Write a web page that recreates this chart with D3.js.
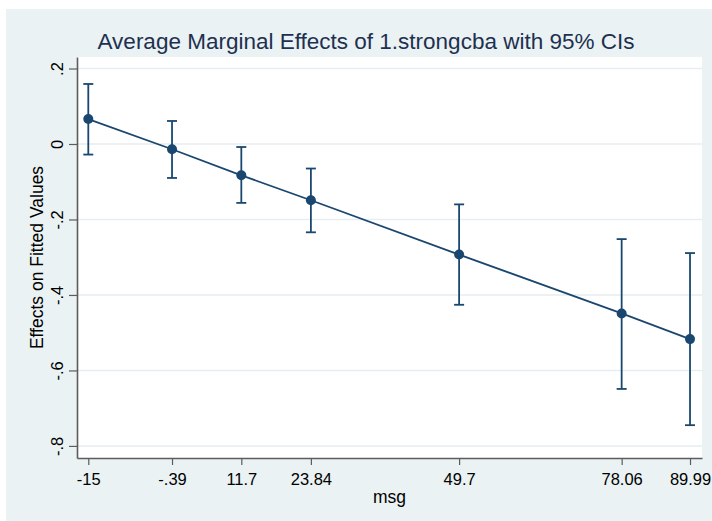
<!DOCTYPE html>
<html>
<meta charset="utf-8">
<head>
  <script src="https://d3js.org/d3.v7.min.js"></script>
  <style>
    body { margin:0; background:#fff; }
    text { font-family: "Liberation Sans", Arial, sans-serif; }
  </style>
</head>
<body>
<script>
    var msg = [-15, -0.39, 11.7, 23.84, 49.7, 78.06, 89.99] ;
    var msgLabels = ['-15', '-.39', '11.7', '23.84', '49.7', '78.06', '89.99'] ;
    var effect = [0.066, -0.014, -0.083, -0.149, -0.293, -0.449, -0.517] ;
    var ciLow = [-0.028, -0.090, -0.156, -0.234, -0.426, -0.649, -0.745] ;
    var ciHigh = [0.159, 0.061, -0.008, -0.065, -0.160, -0.252, -0.289] ;
    var yTicks = [0.2, 0, -0.2, -0.4, -0.6, -0.8] ;
    var yLabels = ['.2', '0', '-.2', '-.4', '-.6', '-.8'] ;

    const navy = '#1a476f'
    const W = 712, H = 521
    const pl = 77, pr = 702, pt = 57, pb = 458

    var svg = d3.select('body').append('svg').attr('width', W).attr('height', H)

    // outer graph region
    svg.append('rect').attr('x', 6).attr('y', 9).attr('width', W - 6).attr('height', H - 9)
	.attr('fill', '#eaf2f3')
    svg.append('rect').attr('x', pl).attr('y', pt).attr('width', pr - pl).attr('height', pb - pt)
	.attr('fill', '#fff')

    var x = d3.scaleLinear().domain([-16.97, 92.08]).range([pl, pr])
    var y = d3.scaleLinear().domain([-0.832, 0.2305]).range([pb, pt])

    // horizontal grid
    svg.append('g').selectAll('line')
	.data(yTicks)
	.join('line')
	.attr('x1', pl).attr('x2', pr)
	.attr('y1', d => y(d)).attr('y2', d => y(d))
	.attr('stroke', '#e6eef1').attr('stroke-width', 1.5)

    // axes
    var yAxis = svg.append('g').attr('transform', `translate(${pl},0)`)
	.call(d3.axisLeft(y).tickValues(yTicks).tickFormat((d, i) => yLabels[i]).tickSize(8).tickSizeOuter(0))
    var xAxis = svg.append('g').attr('transform', `translate(0,${pb})`)
	.call(d3.axisBottom(x).tickValues(msg).tickFormat((d, i) => msgLabels[i]).tickSize(7).tickSizeOuter(0))

    svg.selectAll('.domain').attr('stroke', '#5c5c5c').attr('stroke-width', 1.6)
    svg.selectAll('.tick line').attr('stroke', '#5c5c5c').attr('stroke-width', 1.2)
    svg.selectAll('.tick text').attr('fill', '#000').attr('font-size', 16.5)
	.attr('font-family', '"Liberation Sans", Arial, sans-serif')

    yAxis.selectAll('.tick text')
	.attr('x', 0).attr('y', 0).attr('dy', 0)
	.attr('text-anchor', 'middle')
	.attr('transform', 'translate(-14,0) rotate(-90)')
    xAxis.selectAll('.tick text').attr('y', 27).attr('dy', 0)

    // confidence intervals
    var ci = svg.append('g').attr('stroke', navy).attr('stroke-width', 1.8)
    ci.selectAll('line.bar')
	.data(msg)
	.join('line').attr('class', 'bar')
	.attr('x1', d => x(d)).attr('x2', d => x(d))
	.attr('y1', (d, i) => y(ciLow[i])).attr('y2', (d, i) => y(ciHigh[i]))
    ci.selectAll('line.capl')
	.data(msg)
	.join('line').attr('class', 'capl')
	.attr('x1', d => x(d) - 5).attr('x2', d => x(d) + 5)
	.attr('y1', (d, i) => y(ciLow[i])).attr('y2', (d, i) => y(ciLow[i]))
    ci.selectAll('line.caph')
	.data(msg)
	.join('line').attr('class', 'caph')
	.attr('x1', d => x(d) - 5).attr('x2', d => x(d) + 5)
	.attr('y1', (d, i) => y(ciHigh[i])).attr('y2', (d, i) => y(ciHigh[i]))

    // connected line + markers
    var pts = msg.map((d, i) => [d, effect[i]])
    svg.append('path')
	.attr('d', d3.line().x(d => x(d[0])).y(d => y(d[1]))(pts))
	.attr('fill', 'none').attr('stroke', navy).attr('stroke-width', 1.8)
    svg.append('g').selectAll('circle')
	.data(pts)
	.join('circle')
	.attr('cx', d => x(d[0])).attr('cy', d => y(d[1]))
	.attr('r', 5).attr('fill', navy)

    // titles
    svg.append('text').attr('x', 366).attr('y', 49).attr('text-anchor', 'middle')
	.attr('font-size', 22.5).attr('fill', '#1e3050')
	.text('Average Marginal Effects of 1.strongcba with 95% CIs')
    svg.append('text').attr('x', (pl + pr) / 2).attr('y', 503).attr('text-anchor', 'middle')
	.attr('font-size', 17.5).attr('fill', '#000').text('msg')
    svg.append('text').attr('transform', `translate(43,${(pt + pb) / 2}) rotate(-90)`)
	.attr('text-anchor', 'middle').attr('font-size', 17.5).attr('fill', '#000')
	.text('Effects on Fitted Values')
</script>
</body>
</html>
